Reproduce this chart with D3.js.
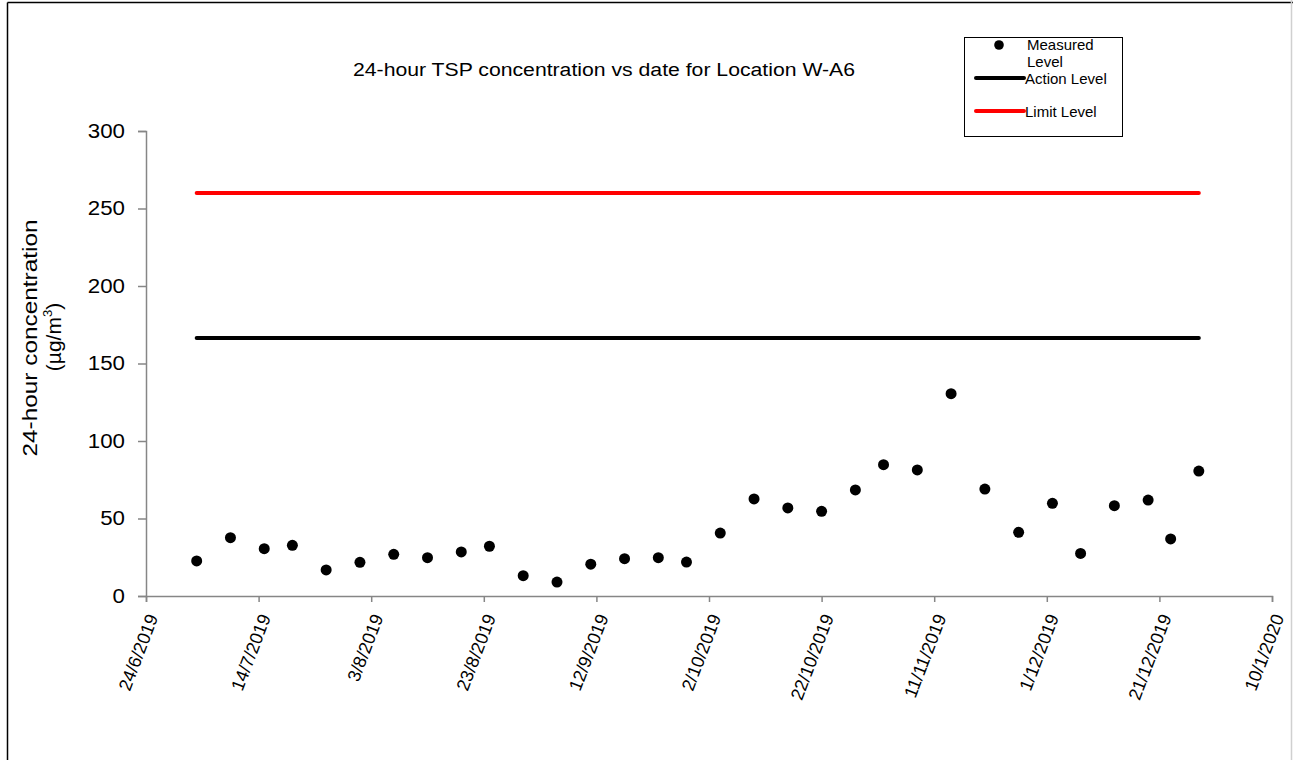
<!DOCTYPE html>
<html>
<head>
<meta charset="utf-8">
<script src="https://cdn.jsdelivr.net/npm/d3@7"></script>
<style>
  html, body { margin: 0; padding: 0; background: #fff; }
  svg { display: block; }
  text { font-family: "Liberation Sans", Arial, sans-serif; fill: #000; }
</style>
</head>
<body>
<svg id="chart" width="1293" height="760"></svg>
<script>
// ---- data ----
const dates = ["2019-07-03","2019-07-09","2019-07-15","2019-07-20","2019-07-26","2019-08-01","2019-08-07","2019-08-13","2019-08-19","2019-08-24","2019-08-30","2019-09-05","2019-09-11","2019-09-17","2019-09-23","2019-09-28","2019-10-04","2019-10-10","2019-10-16","2019-10-22","2019-10-28","2019-11-02","2019-11-08","2019-11-14","2019-11-20","2019-11-26","2019-12-02","2019-12-07","2019-12-13","2019-12-19","2019-12-23","2019-12-28"];
const measured = [22.6,37.6,30.5,32.7,16.8,21.7,26.9,24.7,28.4,32.1,13.1,9.0,20.5,24.1,24.7,21.9,40.6,62.6,56.8,54.6,68.4,84.7,81.3,130.5,69.0,41.1,59.8,27.5,58.3,61.9,36.8,80.6];
const actionLevel = 166.4;
const limitLevel = 260;
const xTickDates = ["2019-06-24","2019-07-14","2019-08-03","2019-08-23","2019-09-12","2019-10-02","2019-10-22","2019-11-11","2019-12-01","2019-12-21","2020-01-10"];
const yTicks = [0,50,100,150,200,250,300];
const titleText = "24-hour TSP concentration vs date for Location W-A6";
const legendLabels = ["Measured", "Level", "Action Level", "Limit Level"];

// ---- setup ----
const parse = d3.utcParse("%Y-%m-%d");
const fmt = d => `${d.getUTCDate()}/${d.getUTCMonth()+1}/${d.getUTCFullYear()}`;
const svg = d3.select("#chart");
const axisColor = "#868686";

// frame
svg.append("line").attr("x1",7.5).attr("y1",2.5).attr("x2",1293).attr("y2",2.5).attr("stroke","#000").attr("stroke-width",1.5);
svg.append("line").attr("x1",7.5).attr("y1",2.5).attr("x2",7.5).attr("y2",760).attr("stroke","#000").attr("stroke-width",1.5);
svg.append("line").attr("x1",1291.5).attr("y1",0).attr("x2",1291.5).attr("y2",760).attr("stroke","#d0d0d0").attr("stroke-width",1.5);

const x = d3.scaleUtc().domain([parse(xTickDates[0]), parse(xTickDates[xTickDates.length-1])]).range([146, 1272]);
const y = d3.scaleLinear().domain([0, 300]).range([596, 131]);

// title
svg.append("text").attr("x", 604).attr("y", 76).attr("text-anchor","middle")
  .attr("font-size", 18).attr("textLength", 502).attr("lengthAdjust","spacingAndGlyphs").text(titleText);

// level lines
const lineGen = d3.line().x(d => x(d[0])).y(d => y(d[1]));
const first = parse(dates[0]), last = parse(dates[dates.length-1]);
svg.append("path").attr("d", lineGen([[first, limitLevel],[last, limitLevel]]))
  .attr("stroke","#ff0000").attr("stroke-width",4).attr("stroke-linecap","round").attr("fill","none");
svg.append("path").attr("d", lineGen([[first, actionLevel],[last, actionLevel]]))
  .attr("stroke","#000").attr("stroke-width",4).attr("stroke-linecap","round").attr("fill","none");

// y axis
const yAxis = svg.append("g").attr("transform","translate(146,0)")
  .call(d3.axisLeft(y).tickValues(yTicks).tickSize(8).tickPadding(13).tickFormat(d3.format("d")));
yAxis.select(".domain").attr("stroke", axisColor).attr("stroke-width",1.5);
yAxis.selectAll(".tick line").attr("stroke", axisColor).attr("stroke-width",1.5);
yAxis.selectAll(".tick text").attr("font-size",20).attr("fill","#000")
  .attr("lengthAdjust","spacingAndGlyphs")
  .each(function(d){ d3.select(this).attr("textLength", String(d).length*12.4); });

// x axis
const xAxis = svg.append("g").attr("transform","translate(0,596)")
  .call(d3.axisBottom(x).tickValues(xTickDates.map(parse)).tickSize(6).tickFormat(fmt));
xAxis.select(".domain").attr("stroke", axisColor).attr("stroke-width",1.5);
xAxis.selectAll(".tick line").attr("stroke", axisColor).attr("stroke-width",1.5);
xAxis.selectAll(".tick text").attr("font-size",18).attr("fill","#000")
  .attr("text-anchor","end").attr("dy","0.35em").attr("y",0)
  .attr("transform","translate(6,19) rotate(-69)");

// y title
svg.append("text").attr("transform","translate(37,338) rotate(-90)").attr("text-anchor","middle")
  .attr("font-size",21).attr("textLength",237).attr("lengthAdjust","spacingAndGlyphs").text("24-hour concentration");
const yt2 = svg.append("text").attr("transform","translate(61,337) rotate(-90)").attr("text-anchor","middle").attr("font-size",21);
yt2.append("tspan").text("(µg/m");
yt2.append("tspan").attr("font-size",13).attr("dy",-9).text("3");
yt2.append("tspan").attr("dy",9).text(")");

// points
svg.append("g").selectAll("circle").data(dates.map((d,i)=>({date:parse(d), v:measured[i]})))
  .join("circle").attr("cx", d => x(d.date)).attr("cy", d => y(d.v)).attr("r", 5.5).attr("fill","#000");

// legend
const lg = svg.append("g");
lg.append("rect").attr("x",964.5).attr("y",37.5).attr("width",158).attr("height",99).attr("fill","#fff").attr("stroke","#000").attr("stroke-width",1);
lg.append("circle").attr("cx",999).attr("cy",45).attr("r",4.8).attr("fill","#000");
lg.append("text").attr("x",1027).attr("y",50).attr("font-size",15).text(legendLabels[0]);
lg.append("text").attr("x",1027).attr("y",67).attr("font-size",15).text(legendLabels[1]);
lg.append("line").attr("x1",976).attr("x2",1024).attr("y1",78).attr("y2",78).attr("stroke","#000").attr("stroke-width",4).attr("stroke-linecap","round");
lg.append("text").attr("x",1025).attr("y",84).attr("font-size",15).text(legendLabels[2]);
lg.append("line").attr("x1",976).attr("x2",1024).attr("y1",111).attr("y2",111).attr("stroke","#ff0000").attr("stroke-width",4).attr("stroke-linecap","round");
lg.append("text").attr("x",1025).attr("y",117).attr("font-size",15).text(legendLabels[3]);
</script>
</body>
</html>
